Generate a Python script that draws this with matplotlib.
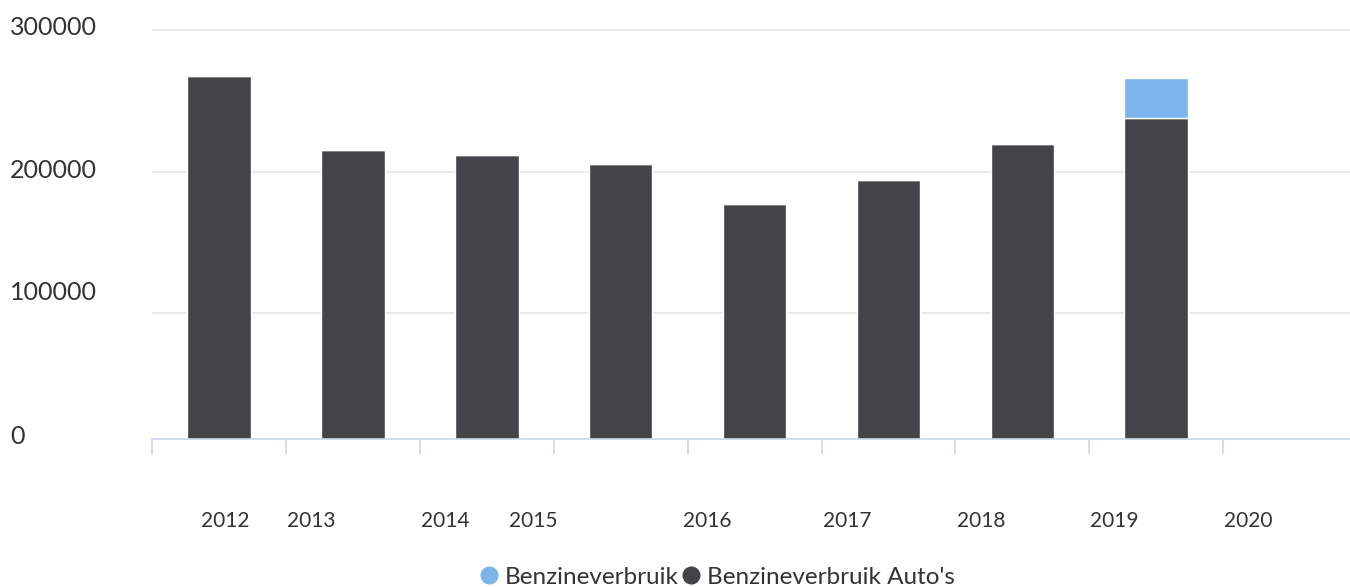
import matplotlib
matplotlib.use("Agg")
import matplotlib.pyplot as plt
import matplotlib.transforms as mtransforms
from matplotlib.lines import Line2D
import numpy as np

plt.rcParams['font.family'] = ['Lato', 'DejaVu Sans']

years = ['2012', '2013', '2014', '2015', '2016', '2017', '2018', '2019', '2020']
auto_values = [267700, 215200, 211700, 205300, 177000, 194000, 219400, 237600, 0]
benzine_values = [0, 0, 0, 0, 0, 0, 0, 28300, 0]
ytick_values = [100000, 200000, 300000]
ytick_labels = ['100000', '200000', '300000']
zero_label = '0'
series_names = ['Benzineverbruik', "Benzineverbruik Auto's"]

# style: label offsets (category units) mimicking reference placement
xlabel_offsets = [0.05, -0.31, -0.31, -0.65, -0.35, -0.31, -0.31, -0.31, -0.31]
ylabel_shift_px = {0: 5, 100000: 23, 200000: 3, 300000: 4.5}

W, H = 1350, 587
fig = plt.figure(figsize=(W / 100, H / 100), dpi=100)
left_px, right_px, top_px, bottom_px = 152, 152 + 9 * 133.9, 20, 439
ax = fig.add_axes([left_px / W, 1 - bottom_px / H, (right_px - left_px) / W, (bottom_px - top_px) / H])

px_per_unit = 141.5 / 100000
ymin = 300000 - (bottom_px - 30) / px_per_unit
ymax = 300000 + (30 - top_px) / px_per_unit
ax.set_ylim(ymin, ymax)
ax.set_xlim(-0.5, len(years) - 0.5)

x = np.arange(len(years))
dark = '#434348'
blue = '#7cb5ec'
txt = '#333333'
ax.bar(x, auto_values, width=0.475, color=dark, edgecolor='white', linewidth=1, zorder=3)
ax.bar(x, benzine_values, width=0.475, bottom=auto_values, color=blue, edgecolor='white', linewidth=1, zorder=3)

# gridlines
for v in ytick_values:
    ax.axhline(v, color='#e6e6e6', linewidth=1.2, zorder=1)

for s in ['top', 'right', 'left']:
    ax.spines[s].set_visible(False)
ax.spines['bottom'].set_color('#ccd6eb')
ax.spines['bottom'].set_linewidth(1.2)
ax.spines['bottom'].set_zorder(4)

# y ticks
yt = [ymin] + ytick_values
ax.set_yticks(yt)
ax.set_yticklabels([zero_label] + ytick_labels)
ax.tick_params(axis='y', length=0, pad=(left_px - 10) * 0.72, labelsize=18, labelcolor=txt)
for lab, v in zip(ax.get_yticklabels(), [0] + ytick_values):
    lab.set_horizontalalignment('left')
    dy = ylabel_shift_px[v] / 100
    lab.set_transform(lab.get_transform() + mtransforms.ScaledTranslation(0, dy, fig.dpi_scale_trans))

# x ticks: boundaries as major ticks, labels as minor
ax.set_xticks(np.arange(len(years)) - 0.5)
ax.set_xticklabels([])
ax.tick_params(axis='x', which='major', length=15 * 0.72, color='#ccd6eb', width=1.2, direction='out')
ax.set_xticks(x + np.array(xlabel_offsets), minor=True)
ax.set_xticklabels(years, minor=True)
ax.tick_params(axis='x', which='minor', length=0, pad=72 * 0.72, labelsize=15, labelcolor=txt)

handles = [Line2D([0], [0], marker='o', linestyle='', markersize=12, markerfacecolor=blue, markeredgecolor=blue),
           Line2D([0], [0], marker='o', linestyle='', markersize=12, markerfacecolor=dark, markeredgecolor=dark)]
leg = fig.legend(handles, series_names, loc='center', bbox_to_anchor=(717 / W, 1 - 577 / H), ncol=2,
                 frameon=False, handletextpad=0.25, columnspacing=0.1, handlelength=0.8,
                 prop={'size': 17.5})
for t in leg.get_texts():
    t.set_color(txt)

fig.savefig('out.png', dpi=100, facecolor='white')
